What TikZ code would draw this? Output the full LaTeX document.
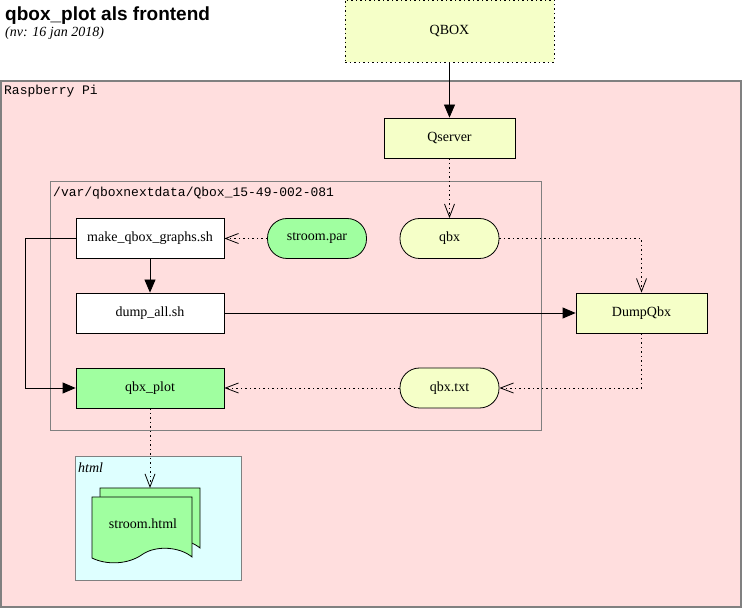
\documentclass[tikz,border=0pt]{standalone}
\usepackage{fontspec}
\setmainfont{Liberation Serif}
\setsansfont{Liberation Sans}
\setmonofont{Liberation Mono}
\usepackage{tikz}
\usetikzlibrary{positioning, calc, arrows.meta}
\definecolor{colorpi}{RGB}{255,222,222}
\definecolor{colorqbox}{RGB}{245,255,200}
\definecolor{colorplot}{RGB}{160,255,160}
\definecolor{colorhtml}{RGB}{222,255,255}
\definecolor{colorframe}{RGB}{128,128,128}

\begin{document}
\begin{tikzpicture}[x=1pt, y=-1pt]
	\tikzstyle{procbox}=[rectangle, draw=black, line width=0.8pt, minimum width=148pt, minimum height=40pt, inner sep=0pt, font=\fontsize{14}{16}\selectfont]
	\tikzstyle{filebox}=[procbox, rounded corners=19.5pt, minimum width=99pt]
	\tikzstyle{flow}=[line width=0.8pt, -{Triangle[length=13pt, width=11pt]}]
	\tikzstyle{data}=[line width=0.8pt, dash pattern=on 1.5pt off 3pt, -{Straight Barb[length=13pt, width=10pt]}]

	\fill[white] (0,0) rectangle (742,609);
	\useasboundingbox (0,0) rectangle (742,609);

	% title
	\node[anchor=base west, inner sep=0pt, font=\sffamily\bfseries\fontsize{19}{22}\selectfont] (title) at (5,21) {qbox\_plot als frontend};
	\node[anchor=base west, inner sep=0pt, font=\itshape\fontsize{14}{16}\selectfont] (version) at (5,37) {(nv: 16 jan 2018)};

	% clusters
	\draw[fill=colorpi, draw=colorframe, line width=2pt] (1,81) rectangle (741,607);
	\node[anchor=base west, inner sep=0pt, font=\ttfamily\fontsize{13}{15}\selectfont] (pi-label) at (4,95) {Raspberry Pi};
	\draw[draw=colorframe, line width=0.8pt] (50,181) rectangle (541,430);
	\node[anchor=base west, inner sep=0pt, font=\ttfamily\fontsize{13}{15}\selectfont] (dir-label) at (53,197) {/var/qboxnextdata/Qbox\_15-49-002-081};
	\draw[fill=colorhtml, draw=colorframe, line width=0.8pt] (75,456) rectangle (241,580);
	\node[anchor=base west, inner sep=0pt, font=\itshape\fontsize{14}{16}\selectfont] (html-label) at (78,472) {html};

	% nodes
	\node[procbox, fill=colorqbox, dash pattern=on 1.5pt off 3pt, minimum width=209pt, minimum height=62pt] (qbox) at (449.5,31) {QBOX};
	\node[procbox, fill=colorqbox, minimum width=131pt] (qserver) at (449.5,138) {Qserver};
	\node[procbox, fill=white] (make) at (150,238.5) {make\_qbox\_graphs.sh};
	\node[filebox, fill=colorplot] (stroompar) at (317,238.5) {stroom.par};
	\node[filebox, fill=colorqbox] (qbx) at (449.5,238.5) {qbx};
	\node[procbox, fill=white] (dumpall) at (150,313) {dump\_all.sh};
	\node[procbox, fill=colorqbox, minimum width=131pt] (dumpqbx) at (641.5,313) {DumpQbx};
	\node[procbox, fill=colorplot] (qbxplot) at (150,388) {qbx\_plot};
	\node[filebox, fill=colorqbox] (qbxtxt) at (449.5,388) {qbx.txt};

	% document
	\foreach \dx/\dy in {8/-9, 0/0}{
		\draw[fill=colorplot, line width=0.8pt, shift={(\dx,\dy)}] (92,497) -- (192,497) -- (192,557) .. controls (180,547) and (157,545) .. (143,554) .. controls (128,565) and (106,565) .. (92,558) -- cycle;
	}
	\node[font=\fontsize{14}{16}\selectfont] (stroomhtml) at (143,524) {stroom.html};
	\coordinate (htmltop) at (150,488);

	% connectors
	\draw[flow] (qbox) -- (qserver);
	\draw[data] (qserver) -- (qbx);
	\draw[data] (stroompar) -- (make);
	\draw[flow] (make) -- (dumpall);
	\draw[flow] (make.west) -- ++(-50,0) |- (qbxplot.west);
	\draw[flow] (dumpall) -- (dumpqbx);
	\draw[data] (qbx.east) -| (dumpqbx.north);
	\draw[data] (dumpqbx.south) |- (qbxtxt.east);
	\draw[data] (qbxtxt) -- (qbxplot);
	\draw[data] (qbxplot) -- (htmltop);
\end{tikzpicture}
\end{document}
